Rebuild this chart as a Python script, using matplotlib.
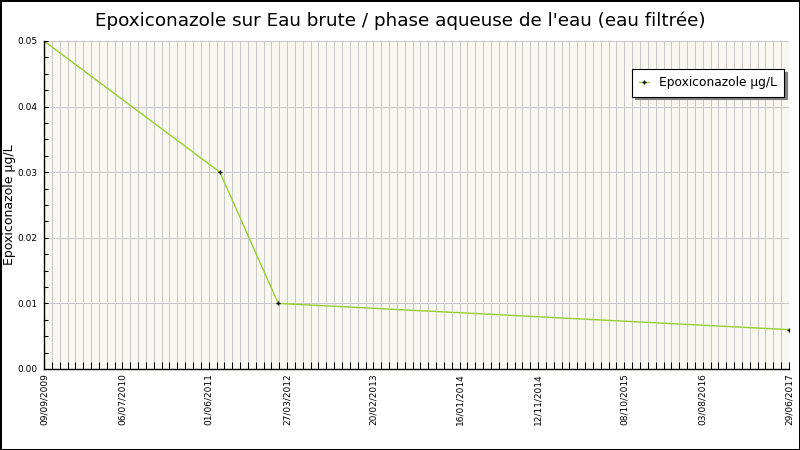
import matplotlib
matplotlib.use("Agg")
import matplotlib.pyplot as plt
import matplotlib.dates as mdates
from matplotlib.ticker import MultipleLocator, FixedLocator
from datetime import datetime

# Data
dates = ["09/09/2009", "14/07/2011", "22/02/2012", "29/06/2017"]
values = [0.05, 0.03, 0.01, 0.006]
tick_labels = ["09/09/2009", "06/07/2010", "01/06/2011", "27/03/2012", "20/02/2013",
               "16/01/2014", "12/11/2014", "08/10/2015", "03/08/2016", "29/06/2017"]
series_name = "Epoxiconazole µg/L"
title = "Epoxiconazole sur Eau brute / phase aqueuse de l'eau (eau filtrée)"
ylabel = "Epoxiconazole µg/L"

x = [mdates.date2num(datetime.strptime(d, "%d/%m/%Y")) for d in dates]
ticks = [mdates.date2num(datetime.strptime(d, "%d/%m/%Y")) for d in tick_labels]

fig = plt.figure(figsize=(8, 4.5), dpi=100)
fig.patch.set_facecolor("white")
fig.patch.set_edgecolor("black")
fig.patch.set_linewidth(2)

ax = fig.add_axes([0.055, 0.18, 0.93125, 0.7289])
ax.set_facecolor("#f8f8f0")

ax.plot(x, values, color="#9acd32", lw=1, marker="+", ms=3.5, mec="black", mew=1,
        label=series_name, zorder=3)

ax.set_xlim(ticks[0], ticks[-1])
ax.set_ylim(0, 0.05)

ax.xaxis.set_major_locator(FixedLocator(ticks))
ax.set_xticklabels(tick_labels, rotation=90, fontsize=6.5)
minor = [ticks[0] + 30 * i for i in range(int((ticks[-1] - ticks[0]) / 30) + 1)]
ax.xaxis.set_minor_locator(FixedLocator(minor))
ax.yaxis.set_major_locator(MultipleLocator(0.01))
ax.yaxis.set_minor_locator(MultipleLocator(0.0025))
ax.yaxis.set_major_formatter(matplotlib.ticker.FormatStrFormatter("%.2f"))
ax.tick_params(axis="y", labelsize=6.5, direction="in", length=3, pad=5, width=0.75)
ax.tick_params(axis="y", which="minor", direction="in", length=3, width=0.75)
ax.tick_params(axis="x", direction="in", length=5, pad=3, width=0.75)
ax.tick_params(axis="x", which="minor", direction="in", length=5, width=0.75)

# grid (crisp 1px lines)
ax.vlines(sorted(set(minor + ticks)), 0, 1, transform=ax.get_xaxis_transform(),
          colors="#c8c8c8", lw=0.6, antialiased=False, zorder=0.5)
ax.hlines(ax.get_yticks(), 0, 1, transform=ax.get_yaxis_transform(),
          colors="#c8c8c8", lw=0.6, antialiased=False, zorder=0.5)
ax.set_ylim(0, 0.05)

for s in ["top", "right"]:
    ax.spines[s].set_visible(False)
ax.spines["left"].set_color("black")
ax.spines["bottom"].set_color("black")
ax.spines["left"].set_linewidth(1)
ax.spines["bottom"].set_linewidth(1)

ax.set_ylabel(ylabel, fontsize=9)
ax.yaxis.set_label_coords(-0.037, 0.5)
fig.suptitle(title, fontsize=13.2, y=0.975)

leg = ax.legend(loc="upper right", bbox_to_anchor=(0.9933, 0.9146), fontsize=8.8,
                frameon=True, fancybox=False, shadow={"color": "#808080", "alpha": 1},
                handlelength=0.8, borderpad=0.6, handletextpad=0.8, borderaxespad=0)
leg.get_frame().set_edgecolor("black")
leg.get_frame().set_facecolor("white")
leg.get_frame().set_linewidth(0.8)

fig.savefig("out.png", dpi=100, facecolor=fig.get_facecolor(), edgecolor=fig.get_edgecolor())
